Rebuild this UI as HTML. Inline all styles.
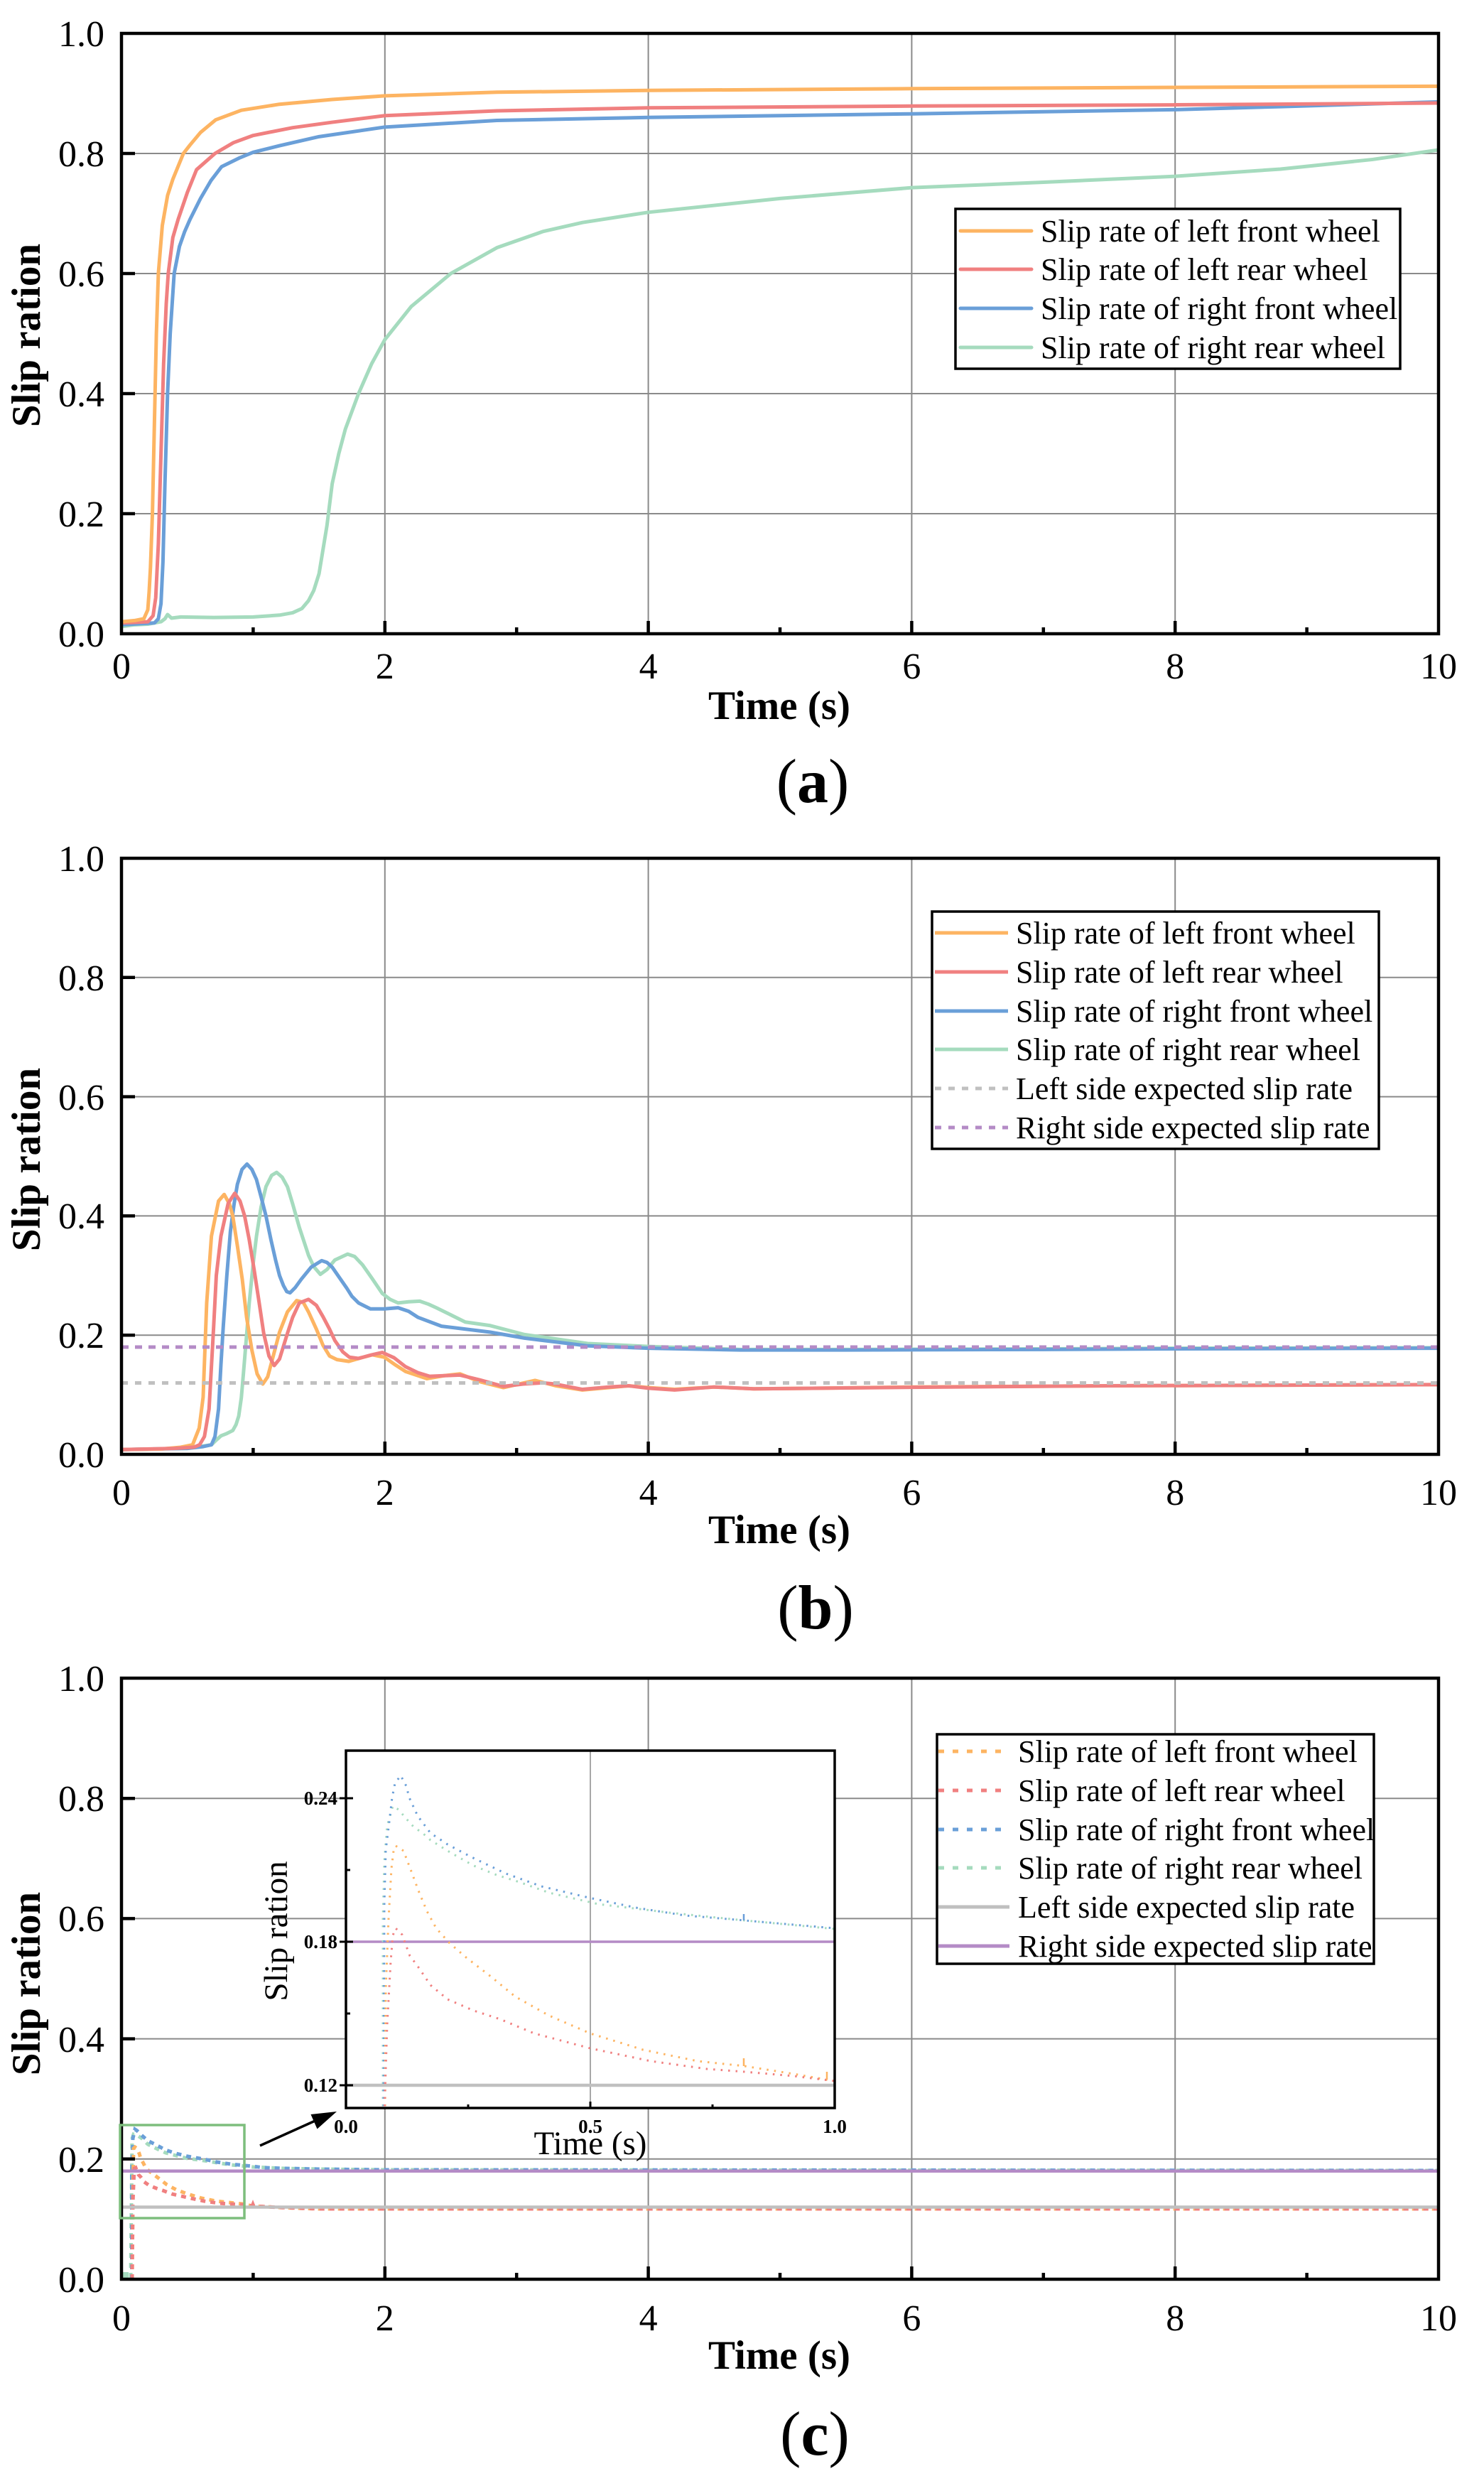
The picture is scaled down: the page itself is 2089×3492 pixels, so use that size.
<!DOCTYPE html>
<html>
<head>
<meta charset="utf-8">
<style>
html,body{margin:0;padding:0;background:#fff;}
svg{display:block;}
text{font-family:"Liberation Serif","Times New Roman",serif;fill:#000;}
</style>
</head>
<body>
<svg width="2089" height="3492" viewBox="0 0 2089 3492" xmlns="http://www.w3.org/2000/svg">
<defs>
<clipPath id="ca"><rect x="171" y="47" width="1854" height="845"/></clipPath>
<clipPath id="cb"><rect x="171" y="1208" width="1854" height="839"/></clipPath>
<clipPath id="cc"><rect x="171" y="2362" width="1854" height="846"/></clipPath>
<clipPath id="ci"><rect x="487" y="2464" width="688" height="503"/></clipPath>
</defs>
<rect x="0" y="0" width="2089" height="3492" fill="#fff"/>

<!-- ================= PANEL A ================= -->
<g stroke="#8a8a8a" stroke-width="2" fill="none">
<path d="M541.8,47V892M912.6,47V892M1283.4,47V892M1654.2,47V892"/>
<path d="M171,723H2025M171,554H2025M171,385H2025M171,216H2025"/>
</g>
<g clip-path="url(#ca)">
<g transform="translate(171 892) scale(185.4 -845)" fill="none" stroke-linejoin="round" stroke-linecap="round">
<path vector-effect="non-scaling-stroke" stroke="#A5DBBE" stroke-width="5" d="M0,0.012 L0.1,0.015 L0.2,0.016 L0.3,0.02 L0.33,0.025 L0.35,0.032 L0.38,0.026 L0.45,0.028 L0.7,0.027 L1,0.028 L1.2,0.031 L1.3,0.035 L1.37,0.042 L1.42,0.055 L1.46,0.072 L1.5,0.1 L1.53,0.14 L1.56,0.18 L1.6,0.25 L1.65,0.3 L1.7,0.341 L1.8,0.4 L1.9,0.45 L2,0.49 L2.2,0.545 L2.5,0.6 L2.85,0.643 L3.2,0.67 L3.5,0.685 L4,0.702 L5,0.725 L6,0.743 L7,0.752 L8,0.762 L8.8,0.774 L9.5,0.79 L10,0.806"/>
<path vector-effect="non-scaling-stroke" stroke="#6A9FD8" stroke-width="5" d="M0,0.015 L0.25,0.018 L0.28,0.025 L0.3,0.05 L0.315,0.12 L0.33,0.25 L0.35,0.4 L0.37,0.5 L0.4,0.6 L0.44,0.645 L0.48,0.67 L0.52,0.69 L0.6,0.725 L0.68,0.755 L0.76,0.778 L0.9,0.793 L1,0.802 L1.2,0.813 L1.5,0.828 L2,0.844 L2.85,0.855 L4,0.86 L6,0.866 L8,0.873 L8.8,0.878 L10,0.886"/>
<path vector-effect="non-scaling-stroke" stroke="#F08080" stroke-width="5" d="M0,0.018 L0.2,0.02 L0.24,0.03 L0.26,0.06 L0.28,0.15 L0.3,0.3 L0.32,0.45 L0.34,0.55 L0.355,0.6 L0.39,0.66 L0.43,0.69 L0.5,0.735 L0.57,0.773 L0.71,0.8 L0.85,0.818 L1,0.83 L1.3,0.843 L1.6,0.852 L2,0.863 L2.85,0.871 L4,0.876 L6,0.879 L8,0.881 L10,0.884"/>
<path vector-effect="non-scaling-stroke" stroke="#FDB462" stroke-width="5" d="M0,0.02 L0.1,0.022 L0.17,0.025 L0.2,0.04 L0.21,0.07 L0.22,0.11 L0.235,0.2 L0.25,0.35 L0.265,0.5 L0.28,0.6 L0.31,0.68 L0.35,0.73 L0.39,0.757 L0.47,0.8 L0.52,0.814 L0.6,0.835 L0.715,0.856 L0.91,0.872 L1.2,0.882 L1.6,0.89 L2,0.896 L2.85,0.902 L4,0.905 L6,0.908 L8,0.91 L10,0.912"/>
</g>
</g>
<g stroke="#000" fill="none">
<rect x="171" y="47" width="1854" height="845" stroke-width="4.5"/>
<path stroke-width="4.5" d="M171,723h19M171,554h19M171,385h19M171,216h19M541.8,892v-18M912.6,892v-18M1283.4,892v-18M1654.2,892v-18M356.4,892v-9M727.2,892v-9M1098,892v-9M1468.8,892v-9M1839.6,892v-9"/>
</g>
<g font-size="52" text-anchor="end">
<text x="147" y="910">0.0</text>
<text x="147" y="741">0.2</text>
<text x="147" y="572">0.4</text>
<text x="147" y="403">0.6</text>
<text x="147" y="234">0.8</text>
<text x="147" y="65">1.0</text>
</g>
<g font-size="52" text-anchor="middle">
<text x="171" y="955">0</text>
<text x="541.8" y="955">2</text>
<text x="912.6" y="955">4</text>
<text x="1283.4" y="955">6</text>
<text x="1654.2" y="955">8</text>
<text x="2025" y="955">10</text>
</g>
<text x="1097" y="1012" font-size="57" font-weight="bold" text-anchor="middle">Time (s)</text>
<text transform="translate(56,472) rotate(-90)" font-size="57" font-weight="bold" text-anchor="middle">Slip ration</text>
<text x="1144" y="1129" font-size="88" text-anchor="middle">(<tspan font-weight="bold">a</tspan>)</text>
<!-- legend a -->
<rect x="1345" y="294" width="626" height="225" fill="#fff" stroke="#000" stroke-width="3.5"/>
<g stroke-width="5" stroke-linecap="round">
<line x1="1352" y1="325" x2="1452" y2="325" stroke="#FDB462"/>
<line x1="1352" y1="379" x2="1452" y2="379" stroke="#F08080"/>
<line x1="1352" y1="434" x2="1452" y2="434" stroke="#6A9FD8"/>
<line x1="1352" y1="489" x2="1452" y2="489" stroke="#A5DBBE"/>
</g>
<g font-size="44">
<text x="1465" y="340">Slip rate of left front wheel</text>
<text x="1465" y="394">Slip rate of left rear wheel</text>
<text x="1465" y="449">Slip rate of right front wheel</text>
<text x="1465" y="504">Slip rate of right rear wheel</text>
</g>

<!-- ================= PANEL B ================= -->
<g stroke="#8a8a8a" stroke-width="2" fill="none">
<path d="M541.8,1208V2047M912.6,1208V2047M1283.4,1208V2047M1654.2,1208V2047"/>
<path d="M171,1879.2H2025M171,1711.4H2025M171,1543.6H2025M171,1375.8H2025"/>
</g>
<g clip-path="url(#cb)">
<g transform="translate(171 2047) scale(185.4 -839)" fill="none" stroke-linejoin="round" stroke-linecap="round">
<path vector-effect="non-scaling-stroke" stroke="#A5DBBE" stroke-width="5" d="M0,0.008 L0.5,0.01 L0.683,0.016 L0.72,0.024 L0.755,0.031 L0.8,0.035 L0.845,0.04 L0.87,0.05 L0.89,0.064 L0.91,0.095 L0.926,0.136 L0.95,0.2 L0.97,0.254 L1,0.32 L1.025,0.366 L1.06,0.415 L1.097,0.449 L1.14,0.468 L1.178,0.473 L1.22,0.465 L1.26,0.449 L1.3,0.42 L1.35,0.381 L1.42,0.334 L1.46,0.315 L1.51,0.302 L1.56,0.31 L1.62,0.326 L1.717,0.336 L1.77,0.332 L1.83,0.318 L1.9,0.296 L1.98,0.27 L2.04,0.26 L2.1,0.254 L2.18,0.256 L2.265,0.257 L2.33,0.252 L2.39,0.246 L2.5,0.234 L2.61,0.222 L2.8,0.216 L3.06,0.201 L3.54,0.186 L4,0.181 L4.7,0.176 L5.5,0.176 L7,0.177 L8,0.178 L10,0.179"/>
<path vector-effect="non-scaling-stroke" stroke="#6A9FD8" stroke-width="5" d="M0,0.008 L0.5,0.01 L0.62,0.013 L0.683,0.016 L0.71,0.03 L0.737,0.076 L0.755,0.15 L0.773,0.215 L0.8,0.3 L0.827,0.374 L0.855,0.42 L0.88,0.453 L0.915,0.478 L0.953,0.487 L0.99,0.478 L1.025,0.461 L1.06,0.432 L1.097,0.4 L1.135,0.36 L1.17,0.326 L1.2,0.3 L1.23,0.283 L1.255,0.273 L1.28,0.271 L1.32,0.28 L1.366,0.294 L1.44,0.314 L1.52,0.325 L1.56,0.322 L1.6,0.314 L1.65,0.298 L1.71,0.279 L1.75,0.265 L1.8,0.254 L1.89,0.244 L1.996,0.244 L2.1,0.246 L2.18,0.24 L2.25,0.23 L2.43,0.215 L2.58,0.211 L2.8,0.205 L3.06,0.195 L3.54,0.182 L4,0.178 L4.7,0.175 L5.5,0.175 L7,0.176 L8,0.177 L10,0.178"/>
<path vector-effect="non-scaling-stroke" stroke="#FDB462" stroke-width="5" d="M0,0.008 L0.3,0.009 L0.45,0.012 L0.54,0.016 L0.59,0.044 L0.62,0.096 L0.647,0.254 L0.683,0.366 L0.737,0.425 L0.78,0.436 L0.82,0.42 L0.845,0.4 L0.88,0.35 L0.917,0.294 L0.95,0.23 L0.99,0.175 L1.03,0.135 L1.073,0.118 L1.11,0.13 L1.15,0.163 L1.2,0.205 L1.26,0.239 L1.33,0.258 L1.38,0.255 L1.42,0.239 L1.48,0.21 L1.53,0.183 L1.58,0.165 L1.636,0.159 L1.726,0.156 L1.82,0.162 L1.906,0.167 L1.996,0.163 L2.08,0.15 L2.157,0.139 L2.32,0.127 L2.45,0.132 L2.57,0.135 L2.72,0.122 L2.9,0.112 L3.02,0.118 L3.14,0.124 L3.3,0.115 L3.5,0.108 L3.7,0.112 L3.85,0.115 L4,0.112 L4.2,0.109 L4.5,0.113 L4.8,0.11 L5.3,0.111 L6,0.113 L7.5,0.115 L10,0.117"/>
<path vector-effect="non-scaling-stroke" stroke="#F08080" stroke-width="5" d="M0,0.008 L0.4,0.01 L0.55,0.012 L0.593,0.016 L0.63,0.03 L0.665,0.076 L0.7,0.215 L0.72,0.3 L0.755,0.366 L0.81,0.421 L0.86,0.438 L0.9,0.425 L0.935,0.4 L0.97,0.36 L1.007,0.31 L1.045,0.255 L1.08,0.203 L1.12,0.165 L1.16,0.149 L1.2,0.16 L1.26,0.203 L1.3,0.23 L1.35,0.254 L1.42,0.26 L1.48,0.25 L1.53,0.231 L1.58,0.21 L1.62,0.191 L1.68,0.172 L1.73,0.163 L1.8,0.161 L1.9,0.167 L1.98,0.171 L2.07,0.162 L2.157,0.147 L2.25,0.137 L2.34,0.131 L2.45,0.132 L2.57,0.133 L2.72,0.125 L2.9,0.114 L3.05,0.118 L3.2,0.12 L3.29,0.118 L3.5,0.109 L3.7,0.113 L3.85,0.115 L4,0.111 L4.2,0.108 L4.5,0.113 L4.8,0.11 L5.3,0.111 L6,0.1125 L7.5,0.115 L10,0.117"/>
</g>
<line x1="171" y1="1946.5" x2="2025" y2="1946.5" stroke="#C0C0C0" stroke-width="5" stroke-dasharray="9 10"/>
<line x1="171" y1="1896" x2="2025" y2="1896" stroke="#B48BC6" stroke-width="5" stroke-dasharray="10 9"/>
</g>
<g stroke="#000" fill="none">
<rect x="171" y="1208" width="1854" height="839" stroke-width="4.5"/>
<path stroke-width="4.5" d="M171,1879.2h19M171,1711.4h19M171,1543.6h19M171,1375.8h19M541.8,2047v-18M912.6,2047v-18M1283.4,2047v-18M1654.2,2047v-18M356.4,2047v-9M727.2,2047v-9M1098,2047v-9M1468.8,2047v-9M1839.6,2047v-9"/>
</g>
<g font-size="52" text-anchor="end">
<text x="147" y="2065">0.0</text>
<text x="147" y="1897">0.2</text>
<text x="147" y="1729">0.4</text>
<text x="147" y="1562">0.6</text>
<text x="147" y="1394">0.8</text>
<text x="147" y="1226">1.0</text>
</g>
<g font-size="52" text-anchor="middle">
<text x="171" y="2118">0</text>
<text x="541.8" y="2118">2</text>
<text x="912.6" y="2118">4</text>
<text x="1283.4" y="2118">6</text>
<text x="1654.2" y="2118">8</text>
<text x="2025" y="2118">10</text>
</g>
<text x="1097" y="2172" font-size="57" font-weight="bold" text-anchor="middle">Time (s)</text>
<text transform="translate(56,1632) rotate(-90)" font-size="57" font-weight="bold" text-anchor="middle">Slip ration</text>
<text x="1148" y="2292" font-size="88" text-anchor="middle">(<tspan font-weight="bold">b</tspan>)</text>
<!-- legend b -->
<rect x="1312" y="1283" width="629" height="334" fill="#fff" stroke="#000" stroke-width="3.5"/>
<g stroke-width="5">
<line x1="1316" y1="1313" x2="1419" y2="1313" stroke="#FDB462"/>
<line x1="1316" y1="1368" x2="1419" y2="1368" stroke="#F08080"/>
<line x1="1316" y1="1423" x2="1419" y2="1423" stroke="#6A9FD8"/>
<line x1="1316" y1="1477" x2="1419" y2="1477" stroke="#A5DBBE"/>
<line x1="1316" y1="1532" x2="1419" y2="1532" stroke="#C0C0C0" stroke-dasharray="9 10"/>
<line x1="1316" y1="1587" x2="1419" y2="1587" stroke="#B48BC6" stroke-dasharray="9 10"/>
</g>
<g font-size="44">
<text x="1430" y="1328">Slip rate of left front wheel</text>
<text x="1430" y="1383">Slip rate of left rear wheel</text>
<text x="1430" y="1438">Slip rate of right front wheel</text>
<text x="1430" y="1492">Slip rate of right rear wheel</text>
<text x="1430" y="1547">Left side expected slip rate</text>
<text x="1430" y="1602">Right side expected slip rate</text>
</g>

<!-- ================= PANEL C ================= -->
<g stroke="#8a8a8a" stroke-width="2" fill="none">
<path d="M541.8,2362V3208M912.6,2362V3208M1283.4,2362V3208M1654.2,2362V3208"/>
<path d="M171,3038.8H2025M171,2869.6H2025M171,2700.4H2025M171,2531.2H2025"/>
</g>
<g clip-path="url(#cc)" fill="none" stroke-width="5">
<path d="M171,3203 L181,3203" stroke="#A5DBBE" stroke-width="10"/>
<path stroke="#A5DBBE" stroke-dasharray="7 7" d="M184,3206 L185,3100 L186,3010 L188,3004 L194,3006 L200,3010 L208,3018 L218,3023 L233,3030 L248,3034 L264,3038 L287,3041 L305,3044 L325,3047 L356,3050 L400,3052 L450,3053 L542,3054 L2025,3055"/>
<path stroke="#6A9FD8" stroke-dasharray="7 7" d="M185.5,3208 L185.5,3060 L187,3010 L190,2997 L193,2999 L199,3005 L208,3013 L218,3018 L233,3026 L248,3031 L264,3035 L287,3039 L305,3043 L325,3046 L356,3049 L371,3051 L400,3052 L450,3053 L542,3054 L2025,3055"/>
<path stroke="#FDB462" stroke-dasharray="7 7" d="M186,3208 L187,3100 L188,3024 L190,3022 L193,3024 L196,3031 L198,3038 L202,3045 L205,3051 L210,3056 L217,3061 L226,3068 L235,3075 L248,3082 L264,3088 L284,3094 L304,3098 L322,3100 L341,3102 L356,3105 L393,3107 L449,3109 L2025,3109"/>
<path stroke="#F08080" stroke-dasharray="7 7" d="M186,3208 L187,3100 L189,3052 L191,3051 L195,3061 L198,3064 L203,3071 L210,3076 L220,3080 L229,3083 L242,3088 L264,3093 L287,3098 L308,3101 L322,3102 L341,3103 L356,3105 L393,3107 L449,3109 L2025,3109"/>
<path d="M352,3106 L356,3096 L360,3106 Z" fill="#F08080" stroke="none"/>
<line x1="171" y1="3106.5" x2="2025" y2="3106.5" stroke="#C0C0C0" stroke-width="4.5"/>
<line x1="171" y1="3055.7" x2="2025" y2="3055.7" stroke="#B48BC6" stroke-width="4.5"/>
</g>
<g stroke="#000" fill="none">
<rect x="171" y="2362" width="1854" height="846" stroke-width="4.5"/>
<path stroke-width="4.5" d="M171,3038.8h19M171,2869.6h19M171,2700.4h19M171,2531.2h19M541.8,3208v-18M912.6,3208v-18M1283.4,3208v-18M1654.2,3208v-18M356.4,3208v-9M727.2,3208v-9M1098,3208v-9M1468.8,3208v-9M1839.6,3208v-9"/>
</g>
<!-- green zoom box -->
<rect x="169" y="2991" width="175" height="131" fill="none" stroke="#7DBE7D" stroke-width="3.5"/>
<!-- arrow -->
<line x1="366" y1="3020" x2="448" y2="2983" stroke="#000" stroke-width="3.5"/>
<polygon points="474,2972 446.5,2996.5 437.5,2976" fill="#000"/>

<!-- inset -->
<rect x="487" y="2464" width="688" height="503" fill="#fff" stroke="none"/>
<line x1="831" y1="2464" x2="831" y2="2967" stroke="#8a8a8a" stroke-width="1.5"/>
<g clip-path="url(#ci)" fill="none" stroke-width="3">
<line x1="487" y1="2935" x2="1175" y2="2935" stroke="#C0C0C0" stroke-width="4.5"/>
<line x1="487" y1="2733" x2="1175" y2="2733" stroke="#B48BC6" stroke-width="3.5"/>
<path stroke="#A5DBBE" stroke-dasharray="2.5 8" d="M539,2975 L539,2700 L541,2620 L545,2570 L553,2542 L561,2547 L572,2560 L582,2571 L596,2581 L606,2590 L635,2608 L667,2626 L699,2639 L731,2649 L773,2664 L842,2680 L942,2692 L1048,2703 L1175,2715"/>
<path stroke="#6A9FD8" stroke-dasharray="2.5 8" d="M540,2975 L541,2680 L543,2604 L548,2564 L552,2530 L556,2510 L564,2499 L572,2514 L576,2530 L588,2556 L606,2580 L630,2596 L664,2614 L712,2637 L762,2655 L829,2671 L895,2685 L964,2696 L1048,2703 L1175,2714"/>
<path stroke="#FDB462" stroke-dasharray="2.5 8" d="M542,2975 L543,2800 L547,2700 L551,2630 L554,2605 L557,2598 L568,2605 L579,2634 L589,2661 L601,2690 L614,2714 L633,2735 L656,2755 L691,2782 L725,2810 L773,2837 L831,2862 L905,2885 L982,2901 L1048,2908 L1117,2919 L1175,2929"/>
<path stroke="#F08080" stroke-dasharray="2.5 8" d="M541,2975 L545,2850 L550,2760 L553,2724 L557,2714 L566,2723 L577,2753 L587,2766 L606,2794 L630,2814 L667,2830 L704,2842 L752,2862 L831,2883 L916,2901 L995,2912 L1048,2916 L1117,2922 L1175,2929"/>
<path stroke="#FDB462" stroke-width="2.5" d="M1047,2908 L1047,2897 M1164,2927 L1164,2916"/>
<path stroke="#6A9FD8" stroke-width="2.5" d="M1047,2703 L1047,2694"/>
</g>
<rect x="487" y="2464" width="688" height="503" fill="none" stroke="#000" stroke-width="3.5"/>
<g stroke="#000" stroke-width="3" fill="none">
<path d="M478,2531h19M478,2733h19M478,2935h19M487,2632h6M487,2834h6M831,2967v-9M659,2967v-5M1003,2967v-5"/>
</g>
<g font-size="27" font-weight="bold" text-anchor="end">
<text x="475" y="2540">0.24</text>
<text x="475" y="2742">0.18</text>
<text x="475" y="2944">0.12</text>
</g>
<g font-size="27" font-weight="bold" text-anchor="middle">
<text x="487" y="3002">0.0</text>
<text x="831" y="3002">0.5</text>
<text x="1175" y="3002">1.0</text>
</g>
<text x="831" y="3032" font-size="47" text-anchor="middle">Time (s)</text>
<text transform="translate(404,2718) rotate(-90)" font-size="47" text-anchor="middle">Slip ration</text>

<g font-size="52" text-anchor="end">
<text x="147" y="3226">0.0</text>
<text x="147" y="3057">0.2</text>
<text x="147" y="2888">0.4</text>
<text x="147" y="2718">0.6</text>
<text x="147" y="2549">0.8</text>
<text x="147" y="2380">1.0</text>
</g>
<g font-size="52" text-anchor="middle">
<text x="171" y="3280">0</text>
<text x="541.8" y="3280">2</text>
<text x="912.6" y="3280">4</text>
<text x="1283.4" y="3280">6</text>
<text x="1654.2" y="3280">8</text>
<text x="2025" y="3280">10</text>
</g>
<text x="1097" y="3334" font-size="57" font-weight="bold" text-anchor="middle">Time (s)</text>
<text transform="translate(56,2792) rotate(-90)" font-size="57" font-weight="bold" text-anchor="middle">Slip ration</text>
<text x="1147" y="3455" font-size="88" text-anchor="middle">(<tspan font-weight="bold">c</tspan>)</text>
<!-- legend c -->
<rect x="1319" y="2441" width="615" height="323" fill="#fff" stroke="#000" stroke-width="3.5"/>
<g stroke-width="5">
<line x1="1321" y1="2465" x2="1421" y2="2465" stroke="#FDB462" stroke-dasharray="8 12"/>
<line x1="1321" y1="2520" x2="1421" y2="2520" stroke="#F08080" stroke-dasharray="8 12"/>
<line x1="1321" y1="2575" x2="1421" y2="2575" stroke="#6A9FD8" stroke-dasharray="8 12"/>
<line x1="1321" y1="2629" x2="1421" y2="2629" stroke="#A5DBBE" stroke-dasharray="8 12"/>
<line x1="1321" y1="2684" x2="1421" y2="2684" stroke="#C0C0C0"/>
<line x1="1321" y1="2739" x2="1421" y2="2739" stroke="#B48BC6"/>
</g>
<g font-size="44">
<text x="1433" y="2480">Slip rate of left front wheel</text>
<text x="1433" y="2535">Slip rate of left rear wheel</text>
<text x="1433" y="2590">Slip rate of right front wheel</text>
<text x="1433" y="2644">Slip rate of right rear wheel</text>
<text x="1433" y="2699">Left side expected slip rate</text>
<text x="1433" y="2754">Right side expected slip rate</text>
</g>
</svg>
</body>
</html>
